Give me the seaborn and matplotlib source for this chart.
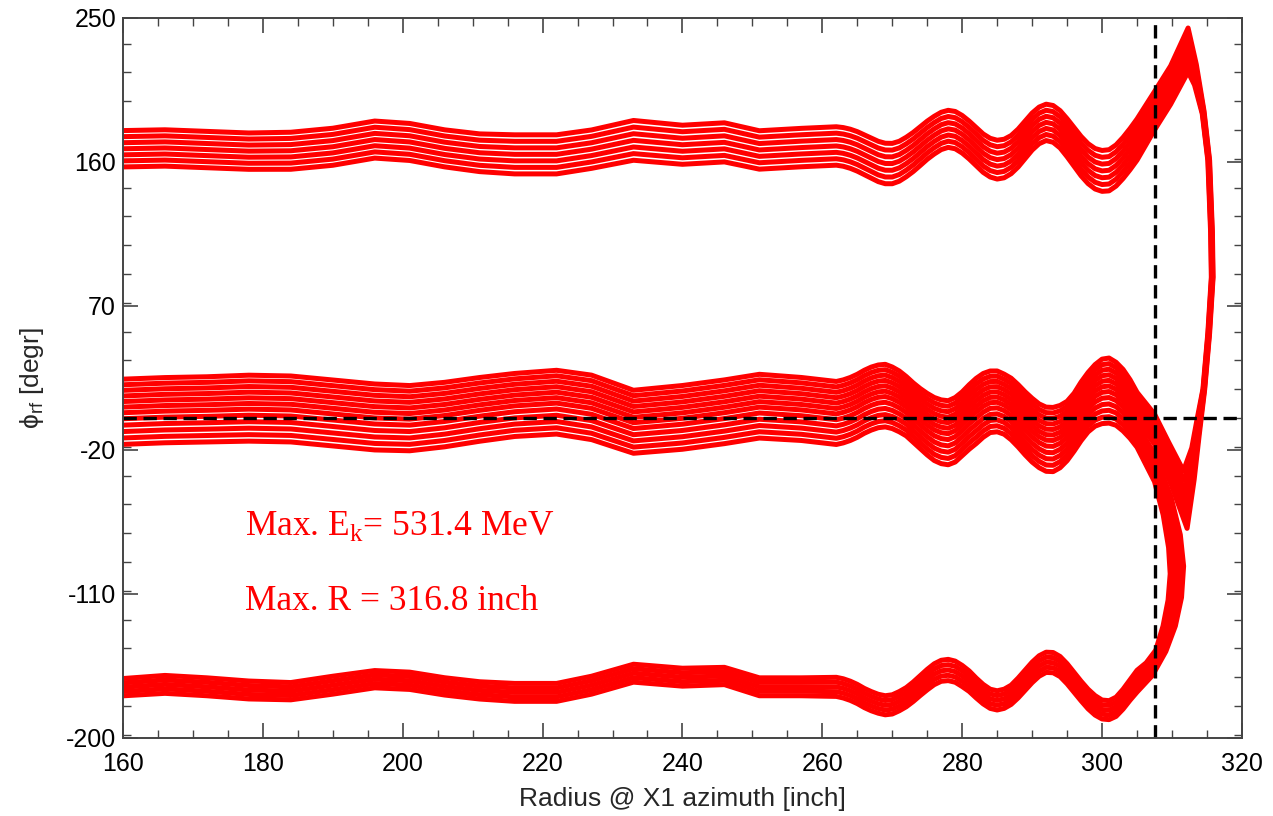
import numpy as np
import matplotlib
matplotlib.use("Agg")
import matplotlib.pyplot as plt
from matplotlib.ticker import MultipleLocator, FixedLocator
import seaborn as sns

# radius knots shared by the three bands [inch]
radius = [160, 166, 172, 178, 184, 190, 196, 201, 206, 211, 216, 222, 227, 233,
          240, 246, 251, 257,
          262, 263, 264, 265, 266, 267, 268, 269, 270, 271, 272, 273, 274, 275,
          276, 277, 278, 279, 280, 281, 282, 283, 284, 285, 286, 287, 288, 289,
          290, 291, 292, 293, 294, 295, 296, 297, 298, 299, 300, 301, 302, 303,
          304, 305]

# upper band (around 160-200 degr), upper / lower edge
top_hi = [181.5, 182, 181, 180, 180.5, 183, 187.5, 186, 182, 179.5, 179, 179, 182, 188,
          185, 186.5, 181.5, 183,
          184, 183.5, 182.5, 181, 179, 177, 175, 173.8, 173.7, 175, 177.5, 180.5, 184, 187.5,
          190.5, 193, 194.2, 193.5, 191, 187.5, 183.5, 179.5, 176.8, 175.6, 176.2, 178.5, 182.5, 187.5,
          192.5, 196.2, 198, 197.2, 194, 189, 183.5, 178, 173.5, 170.5, 169.3, 169.8, 172.8, 177.5,
          183, 189]
top_lo = [155, 155.5, 154.5, 153.5, 153.5, 156, 160.5, 159, 155, 152, 150.5, 150.5, 154, 159,
          156.5, 158, 153.5, 155,
          156, 155.3, 154, 152.2, 150, 147.8, 145.6, 144.3, 144.3, 145.9, 148.7, 152, 155.8, 159.7,
          163, 165.8, 167.2, 166.3, 163.6, 159.9, 155.7, 151.5, 148.6, 147.3, 148.1, 150.7, 154.9, 160.2,
          165.5, 169.5, 171.5, 170.4, 166.8, 161.3, 155.3, 149.3, 144.4, 141, 139.5, 139.8, 142.8, 147.5,
          153, 159]

# middle band (around 0 degr)
mid_hi = [26, 27, 27.5, 28.5, 28, 25.5, 23, 22, 24, 27, 29.5, 31.5, 28.5, 19,
          22, 25.5, 29, 27,
          24.5, 25.5, 27, 29, 31.5, 33.5, 34.8, 35.2, 33.5, 31, 27.5, 23.5, 20, 17,
          14.5, 13, 12.5, 14.5, 18, 22.5, 26.5, 29.5, 31, 31, 29, 26.5, 22.5, 18,
          14, 10.5, 8.5, 8.3, 9.5, 12, 17, 24, 30, 35, 38.5, 39.2, 36.5, 32,
          25.5, 17.5]
mid_lo = [-18.5, -17.5, -17, -16.5, -17, -19.5, -22, -22.5, -20, -16.5, -13.5, -12, -15.5, -24,
          -21.5, -18, -14.5, -16,
          -18.5, -17.5, -16, -14, -11.5, -9.5, -8, -7.5, -8.5, -10.5, -13, -17, -21, -25,
          -28.5, -30.5, -31.2, -29.5, -25.5, -21.5, -18, -14, -11, -10.5, -12, -15.5, -20, -25,
          -29.5, -33, -35.3, -35.5, -33, -28.5, -22.5, -16, -10.5, -7, -5.5, -5.2, -6.5, -10,
          -14.5, -20]

# lower band (around -170 degr)
bot_hi = [-161.5, -159.5, -161, -163, -164, -160, -156.5, -157.5, -161, -163.5, -164.5, -164.5, -160, -152.5,
          -155, -154.5, -161, -161,
          -160.6, -161.5, -163, -165, -167.5, -169.5, -171.2, -172.1, -171.5, -169.5, -167, -163.5, -159.5, -155.5,
          -152, -149.8, -149.2, -150.3, -153, -156.5, -161, -165, -168, -169, -168, -165.5, -161, -156,
          -151, -147, -144.8, -145, -147.5, -152, -157.5, -163, -168, -172, -174.8, -175.2, -173, -168,
          -162, -156]
bot_lo = [-175, -173.5, -175, -177, -177.5, -174, -170, -171, -174.5, -177, -178.5, -178.5, -174, -166.5,
          -169, -168, -175, -175,
          -175.5, -176.5, -178, -180, -182.5, -184.5, -186, -187, -186.5, -184.5, -182, -178.7, -175, -171.5,
          -168.3, -166.2, -165.8, -166.8, -169.5, -172.5, -176.5, -180.2, -183, -184, -183, -180.5, -176.5, -171.8,
          -167, -163, -160.6, -160.8, -163.2, -167.7, -173, -178.3, -183.3, -187.2, -189.6, -190, -188, -183.5,
          -178, -173]

# turn-over near extraction: V tip + outer return branch (inner / outer edge)
hook_r_in = [307.5, 309.5, 311.6, 312.8, 313.6, 314.4, 315.1, 315.6, 315.5, 315.1, 314.3, 313.2, 312.3, 309.8, 307.5]
hook_p_in = [4, -13, -30, -17, 1, 18, 53, 88, 116, 161, 190, 207, 214, 194, 178]
hook_r_out = [307.5, 310.0, 312.2, 313.2, 313.9, 314.7, 315.4, 315.9, 315.8, 315.4, 314.6, 313.5, 312.3, 309.8, 307.5]
hook_p_out = [-18, -45, -72, -40, -12, 18, 53, 88, 116, 161, 192, 222, 246, 222, 206]

# arc joining middle band to lower band
arc_r_in = [307.5, 308.6, 309.3, 309.5, 309.2, 308.5, 307.5, 306.2]
arc_p_in = [-42, -62, -82, -98, -114, -130, -145, -152]
arc_r_out = [307.5, 310.0, 311.4, 311.9, 311.6, 310.7, 309.3, 307.3]
arc_p_out = [-20, -48, -72, -92, -112, -130, -146, -162]

r_extr = 307.6
phi_ref = 0
n_upper = 7
n_lower = 5

x = np.array(radius)
th, tl = np.array(top_hi), np.array(top_lo)
mh, ml = np.array(mid_hi), np.array(mid_lo)
bh, bl = np.array(bot_hi), np.array(bot_lo)


def blend(a, b, g):
    return np.asarray(a) + g * (np.asarray(b) - np.asarray(a))


sns.set_style("ticks")
plt.rcParams['font.family'] = ['Liberation Sans', 'DejaVu Sans']
plt.rcParams['mathtext.fontset'] = 'dejavusans'
plt.rcParams['axes.unicode_minus'] = False

fig = plt.figure(figsize=(12.73, 8.16), dpi=100)
ax = fig.add_axes([0.0966, 0.0956, 0.879, 0.8824])

lw = 3.6

# upper loop: middle band (upper part) -> V tip -> return branch -> upper band
for i in range(n_upper):
    g = (i + 0.5) / n_upper
    f = 0.55 * g
    px = np.concatenate([x, blend(hook_r_in, hook_r_out, g), x[::-1]])
    py = np.concatenate([blend(mh, ml, f), blend(hook_p_in, hook_p_out, g),
                         blend(tl, th, g)[::-1]])
    sns.lineplot(x=px, y=py, sort=False, estimator=None, color='red',
                 linewidth=lw, ax=ax, legend=False)

# lower loop: middle band (lower part) -> arc -> lower band
for i in range(n_lower):
    g = (i + 0.5) / n_lower
    f = 1 - 0.45 * g
    px = np.concatenate([x, blend(arc_r_in, arc_r_out, g), x[::-1]])
    py = np.concatenate([blend(mh, ml, f), blend(arc_p_in, arc_p_out, g),
                         blend(bh, bl, g)[::-1]])
    sns.lineplot(x=px, y=py, sort=False, estimator=None, color='red',
                 linewidth=lw, ax=ax, legend=False)

ax.axvline(r_extr, color='black', lw=2.4, ls=(0, (4, 2)))
ax.axhline(phi_ref, color='black', lw=2.4, ls=(0, (4, 2)))

ax.set_xlim(160, 320)
ax.set_ylim(-200, 250)
ax.xaxis.set_major_locator(MultipleLocator(20))
ax.xaxis.set_minor_locator(MultipleLocator(5))
ax.yaxis.set_major_locator(FixedLocator([-200, -110, -20, 70, 160, 250]))
ax.yaxis.set_minor_locator(MultipleLocator(18))
ax.tick_params(which='both', direction='in', top=True, right=True, color='#444444',
               labelsize=18, labelcolor='black')
ax.tick_params(which='major', length=11, width=1.2, pad=5)
ax.tick_params(axis='x', which='major', pad=10)
ax.tick_params(which='minor', length=6, width=1.0)
for s in ax.spines.values():
    s.set_color('#444444')
    s.set_linewidth(1.4)

ax.set_xlabel('Radius @ X1 azimuth [inch]', fontsize=19, labelpad=8)
ax.set_ylabel(r'$\mathregular{\phi_{rf}}$ [degr]', fontsize=19, labelpad=14)

ax.text(177.4, -73, r'Max. E$_\mathregular{k}$= 531.4 MeV', color='red', fontsize=25.5,
        family=['Liberation Serif', 'DejaVu Serif'], ha='left', va='baseline')
ax.text(177.4, -120, 'Max. R = 316.8 inch', color='red', fontsize=25.5,
        family=['Liberation Serif', 'DejaVu Serif'], ha='left', va='baseline')

fig.savefig('out.png', dpi=100)
